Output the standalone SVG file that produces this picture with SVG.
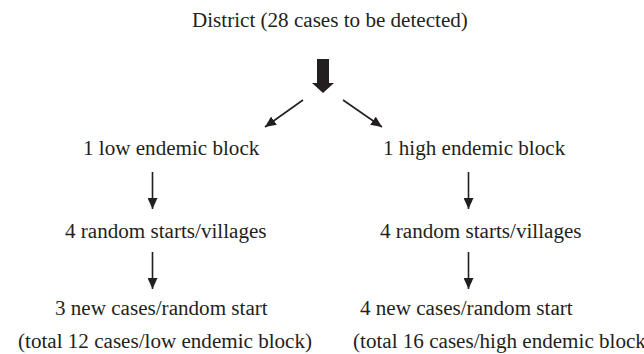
<svg xmlns="http://www.w3.org/2000/svg" width="644" height="354" viewBox="0 0 644 354">
<style>
text{font-family:"Liberation Serif","Times New Roman",serif;font-size:21.1px;fill:#231f20}
.c{stroke:#231f20;stroke-width:1.6;fill:none}
</style>
<defs>
<marker id="ah" markerUnits="userSpaceOnUse" markerWidth="11" markerHeight="10" refX="11" refY="5" orient="auto">
<path d="M0,0 L11,5 L0,10 z" fill="#231f20"/>
</marker>
</defs>
<rect width="644" height="354" fill="#fff"/>
<g id="district"><text x="192" y="27">District (28 cases to be detected)</text></g>
<g id="low-block"><text x="83" y="155">1 low endemic block</text></g>
<g id="high-block"><text x="383" y="155">1 high endemic block</text></g>
<g id="low-starts"><text x="65" y="238">4 random starts/villages</text></g>
<g id="high-starts"><text x="380" y="238">4 random starts/villages</text></g>
<g id="low-cases"><text x="55" y="315">3 new cases/random start</text><text x="18" y="348">(total 12 cases/low endemic block)</text></g>
<g id="high-cases"><text x="360" y="315">4 new cases/random start</text><text x="353" y="348">(total 16 cases/high endemic block</text></g>
<g id="connectors">
<polygon points="317,59 329,59 329,83 334,83 323,93 312,83 317,83" fill="#231f20"/>
<line class="c" x1="303" y1="100" x2="265" y2="127" marker-end="url(#ah)"/>
<line class="c" x1="343" y1="100" x2="382" y2="127" marker-end="url(#ah)"/>
<line class="c" x1="152.5" y1="172" x2="152.5" y2="209" marker-end="url(#ah)"/>
<line class="c" x1="152.5" y1="252" x2="152.5" y2="289" marker-end="url(#ah)"/>
<line class="c" x1="468.5" y1="172" x2="468.5" y2="209" marker-end="url(#ah)"/>
<line class="c" x1="468.5" y1="252" x2="468.5" y2="289" marker-end="url(#ah)"/>
</g>
</svg>
